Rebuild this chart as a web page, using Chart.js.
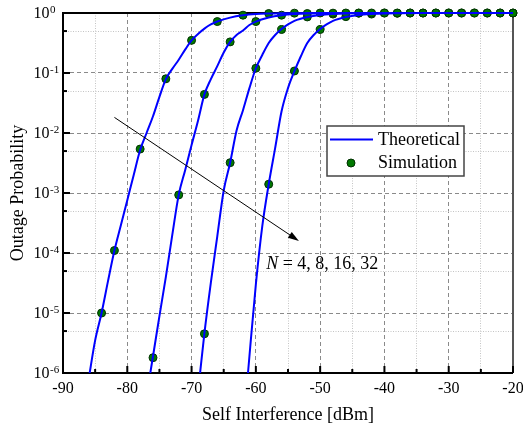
<!DOCTYPE html>
<html lang="en">
<head>
<meta charset="UTF-8">
<title>Outage Probability x Self Interference</title>
<script src="https://cdn.jsdelivr.net/npm/chart.js"></script>
<style>
    body { margin: 0; background: #ffffff; }
    #caixa { width: 523px; height: 429px; }
</style>
</head>
<body>
<div id="caixa"><canvas id="grafico"></canvas></div>

<script>
// ---- dados ----
const xTicks = [-90, -80, -70, -60, -50, -40, -30, -20];
const xMinorTicks = [-85, -75, -65, -55, -45, -35, -25];
const yTicks = [1e-6, 1e-5, 1e-4, 1e-3, 1e-2, 1e-1, 1];
const yMinorTicks = [5e-6, 5e-5, 5e-4, 5e-3, 5e-2, 5e-1];
const valoresN = [4, 8, 16, 32];

// curvas teoricas (N = 4, 8, 16, 32)
const teoX1 = [-86, -85, -84, -83, -82, -81, -80, -79, -78, -77, -76, -75, -74, -73, -72, -71, -70, -69, -68, -67, -66, -64, -62, -60, -58, -56, -54, -50, -45, -40, -20];
const teoY1 = [8e-7, 3.5e-6, 1.0e-5, 3.4e-5, 1.1e-4, 2.9e-4, 7.6e-4, 2.0e-3, 5.2e-3, 1.0e-2, 1.9e-2, 4.0e-2, 7.9e-2, 0.117, 0.166, 0.245, 0.35, 0.447, 0.55, 0.645, 0.72, 0.838, 0.916, 0.96, 0.98, 0.991, 0.995, 0.999, 1, 1, 1];

const teoX2 = [-76.5, -76, -75, -74, -73, -72, -71, -70, -69, -68, -67, -66, -65, -64, -63, -62, -61, -60, -58, -56, -54, -52, -50, -46, -40, -20];
const teoY2 = [8.9e-7, 1.9e-6, 8.9e-6, 4.0e-5, 2.0e-4, 9.3e-4, 2.4e-3, 6.3e-3, 1.6e-2, 4.4e-2, 7.9e-2, 0.13, 0.22, 0.33, 0.43, 0.51, 0.63, 0.72, 0.84, 0.916, 0.96, 0.98, 0.991, 0.998, 1, 1];

const teoX3 = [-68.7, -68, -67, -66, -65, -64, -63, -62, -61, -60, -59, -58, -57, -56, -55, -54, -52, -50, -48, -46, -44, -40, -20];
const teoY3 = [9.5e-7, 4.6e-6, 3.2e-5, 1.9e-4, 1.1e-3, 3.2e-3, 1.1e-2, 2.4e-2, 5.6e-2, 0.12, 0.2, 0.316, 0.43, 0.54, 0.645, 0.74, 0.857, 0.93, 0.966, 0.984, 0.993, 0.999, 1];

const teoX4 = [-61.3, -61, -60, -59, -58, -57, -56, -55, -54, -53, -52, -51, -50, -49, -48, -46, -44, -42, -40, -38, -34, -20];
const teoY4 = [8e-7, 1.9e-6, 3.0e-5, 2.8e-4, 1.4e-3, 5.6e-3, 2.3e-2, 5.6e-2, 0.107, 0.19, 0.316, 0.43, 0.54, 0.645, 0.74, 0.857, 0.93, 0.966, 0.984, 0.993, 0.999, 1];

// pontos de simulacao
const simX1 = [-84, -82, -78, -74, -70, -66, -62, -58, -54, -50, -46, -42, -38, -34, -30, -26, -22];
const simY1 = [1.0e-5, 1.1e-4, 5.4e-3, 0.08, 0.35, 0.72, 0.92, 0.98, 0.995, 0.999, 1, 1, 1, 1, 1, 1, 1];

const simX2 = [-76, -72, -68, -64, -60, -56, -52, -48, -44, -40, -36, -32, -28, -24, -20];
const simY2 = [1.8e-6, 9.3e-4, 0.044, 0.33, 0.72, 0.92, 0.98, 0.995, 0.999, 1, 1, 1, 1, 1, 1];

const simX3 = [-68, -64, -60, -56, -52, -48, -44, -40, -36, -32, -28, -24, -20];
const simY3 = [4.5e-6, 3.2e-3, 0.12, 0.53, 0.86, 0.96, 0.993, 0.999, 1, 1, 1, 1, 1];

const simX4 = [-58, -54, -50, -46, -42, -38, -34, -30, -26, -22];
const simY4 = [1.4e-3, 0.108, 0.53, 0.87, 0.96, 0.99, 0.998, 1, 1, 1];

const fonte = "'Times New Roman', 'Liberation Serif', serif";
const azul = '#0000ff';
const verde = '#007800';
const verdeBorda = '#003000';

function pontos(xs, ys) {
    return xs.map(function (x, i) { return { x: x, y: ys[i] }; });
}

function curva(xs, ys) {
    return {
        type: 'line',
        data: pontos(xs, ys),
        borderColor: azul,
        borderWidth: 2,
        pointRadius: 0,
        fill: false,
        cubicInterpolationMode: 'monotone',
        clip: { left: 0, top: 4, right: 4, bottom: 0 }
    };
}

function simulacao(xs, ys) {
    return {
        type: 'scatter',
        data: pontos(xs, ys),
        backgroundColor: verde,
        borderColor: verdeBorda,
        borderWidth: 1,
        pointRadius: 4,
        clip: false
    };
}

function ehMajorY(v) {
    return yTicks.some(function (t) { return Math.abs(Math.log10(t) - Math.log10(v)) < 1e-6; });
}

// moldura, tracinhos internos e rotulos do eixo y
const moldura = {
    id: 'moldura',
    beforeDatasetsDraw(chart) {
        const ctx = chart.ctx;
        const a = chart.chartArea;
        const sx = chart.scales.x;
        const sy = chart.scales.y;
        ctx.save();
        ctx.lineWidth = 2;
        ctx.strokeStyle = '#000';
        ctx.beginPath();
        ctx.moveTo(a.right, a.top);
        ctx.lineTo(a.left, a.top);
        ctx.lineTo(a.left, a.bottom);
        ctx.lineTo(a.right, a.bottom);
        ctx.stroke();
        ctx.strokeStyle = '#555';
        ctx.beginPath();
        ctx.moveTo(a.right, a.top);
        ctx.lineTo(a.right, a.bottom);
        ctx.stroke();

        ctx.strokeStyle = '#000';
        ctx.lineWidth = 2;
        sx.ticks.forEach(function (t) {
            const px = sx.getPixelForValue(t.value);
            const tam = xTicks.includes(t.value) ? 7 : 4;
            ctx.beginPath();
            ctx.moveTo(px, a.bottom);
            ctx.lineTo(px, a.bottom - tam);
            ctx.stroke();
        });
        sy.ticks.forEach(function (t) {
            const py = sy.getPixelForValue(t.value);
            const tam = ehMajorY(t.value) ? 7 : 4;
            ctx.beginPath();
            ctx.moveTo(a.left, py);
            ctx.lineTo(a.left + tam, py);
            ctx.stroke();
        });
        ctx.restore();
    },
    afterDraw(chart) {
        const ctx = chart.ctx;
        const a = chart.chartArea;
        const sx = chart.scales.x;
        const sy = chart.scales.y;
        ctx.save();
        ctx.fillStyle = '#000';

        // rotulos 10^k
        yTicks.forEach(function (v) {
            const py = sy.getPixelForValue(v);
            const expo = Math.round(Math.log10(v));
            ctx.font = '16px ' + fonte;
            ctx.textAlign = 'right';
            ctx.textBaseline = 'alphabetic';
            ctx.fillText('10', a.left - 13.5, py + 5.3);
            ctx.font = '11px ' + fonte;
            ctx.textAlign = 'left';
            ctx.fillText(String(expo), a.left - 13, py - 0.5);
        });

        // seta
        const x0 = sx.getPixelForValue(-82.0), y0 = sy.getPixelForValue(Math.pow(10, -1.74));
        const x1 = sx.getPixelForValue(-53.3), y1 = sy.getPixelForValue(Math.pow(10, -3.80));
        const ang = Math.atan2(y1 - y0, x1 - x0);
        ctx.strokeStyle = '#000';
        ctx.lineWidth = 1;
        ctx.beginPath();
        ctx.moveTo(x0, y0);
        ctx.lineTo(x1 - 8 * Math.cos(ang), y1 - 8 * Math.sin(ang));
        ctx.stroke();
        ctx.beginPath();
        ctx.moveTo(x1, y1);
        ctx.lineTo(x1 - 11 * Math.cos(ang) + 3.5 * Math.sin(ang), y1 - 11 * Math.sin(ang) - 3.5 * Math.cos(ang));
        ctx.lineTo(x1 - 11 * Math.cos(ang) - 3.5 * Math.sin(ang), y1 - 11 * Math.sin(ang) + 3.5 * Math.cos(ang));
        ctx.closePath();
        ctx.fill();

        // texto N = 4, 8, 16, 32
        const tx = sx.getPixelForValue(-58.4);
        const ty = sy.getPixelForValue(Math.pow(10, -4.26));
        ctx.textAlign = 'left';
        ctx.textBaseline = 'alphabetic';
        ctx.font = 'italic 18px ' + fonte;
        ctx.fillText('N', tx, ty);
        const wN = ctx.measureText('N').width;
        ctx.font = '18px ' + fonte;
        ctx.fillText(' = ' + valoresN.join(', '), tx + wN, ty);

        // legenda
        const lx = a.left + 264, ly = a.top + 113;
        ctx.fillStyle = '#fff';
        ctx.fillRect(lx, ly, 137, 50);
        ctx.strokeStyle = '#444';
        ctx.lineWidth = 1.5;
        ctx.strokeRect(lx, ly, 137, 50);
        ctx.strokeStyle = azul;
        ctx.lineWidth = 2;
        ctx.beginPath();
        ctx.moveTo(lx + 3, ly + 13.5);
        ctx.lineTo(lx + 46, ly + 13.5);
        ctx.stroke();
        ctx.fillStyle = verde;
        ctx.strokeStyle = verdeBorda;
        ctx.lineWidth = 1;
        ctx.beginPath();
        ctx.arc(lx + 24, ly + 37, 4, 0, Math.PI * 2);
        ctx.fill();
        ctx.stroke();
        ctx.fillStyle = '#000';
        ctx.font = '18px ' + fonte;
        ctx.textBaseline = 'middle';
        ctx.fillText('Theoretical', lx + 51, ly + 14);
        ctx.fillText('Simulation', lx + 51, ly + 37);
        ctx.restore();
    }
};

const config = {
    data: {
        datasets: [
            curva(teoX1, teoY1), curva(teoX2, teoY2), curva(teoX3, teoY3), curva(teoX4, teoY4),
            simulacao(simX1, simY1), simulacao(simX2, simY2), simulacao(simX3, simY3), simulacao(simX4, simY4)
        ]
    },
    options: {
        responsive: true,
        maintainAspectRatio: false,
        animation: false,
        devicePixelRatio: 1,
        layout: { padding: { top: 13, right: 10, left: 0, bottom: 0 } },
        plugins: {
            legend: { display: false },
            tooltip: { enabled: false }
        },
        scales: {
            x: {
                type: 'linear',
                min: -90,
                max: -20,
                afterBuildTicks: function (s) {
                    s.ticks = xTicks.concat(xMinorTicks).sort(function (a, b) { return a - b; })
                        .map(function (v) { return { value: v }; });
                },
                afterFit: function (s) {
                    s.height = 56;
                    s.paddingLeft = 0;
                    s.paddingRight = 0;
                },
                ticks: {
                    autoSkip: false,
                    maxRotation: 0,
                    padding: 6,
                    color: '#000',
                    font: { family: fonte, size: 16 },
                    callback: function (v) { return xTicks.includes(v) ? String(v) : ''; }
                },
                grid: {
                    drawTicks: false,
                    lineWidth: 1,
                    color: function (c) {
                        if (!c.tick) return '#888';
                        return xTicks.includes(c.tick.value) ? '#8a8a8a' : '#c4c4c4';
                    }
                },
                border: {
                    display: false,
                    dash: function (c) {
                        if (!c.tick) return [];
                        return xTicks.includes(c.tick.value) ? [4, 3] : [1, 1.5];
                    }
                },
                title: {
                    display: true,
                    text: 'Self Interference [dBm]',
                    color: '#000',
                    font: { family: fonte, size: 18 },
                    padding: { top: 0, bottom: 3 }
                }
            },
            y: {
                type: 'logarithmic',
                min: 1e-6,
                max: 1,
                afterBuildTicks: function (s) {
                    s.ticks = yTicks.concat(yMinorTicks).sort(function (a, b) { return a - b; })
                        .map(function (v) { return { value: v }; });
                },
                afterFit: function (s) {
                    s.width = 63;
                    s.paddingTop = 0;
                    s.paddingBottom = 0;
                },
                ticks: { display: false },
                grid: {
                    drawTicks: false,
                    lineWidth: 1,
                    color: function (c) {
                        if (!c.tick) return '#888';
                        return ehMajorY(c.tick.value) ? '#8a8a8a' : '#c4c4c4';
                    }
                },
                border: {
                    display: false,
                    dash: function (c) {
                        if (!c.tick) return [];
                        return ehMajorY(c.tick.value) ? [4, 3] : [1, 1.5];
                    }
                },
                title: {
                    display: true,
                    text: 'Outage Probability',
                    color: '#000',
                    font: { family: fonte, size: 18 },
                    padding: { top: 7, bottom: 0 }
                }
            }
        }
    },
    plugins: [moldura]
};

let meuGrafico = new Chart(document.getElementById('grafico'), config);
</script>
</body>
</html>
